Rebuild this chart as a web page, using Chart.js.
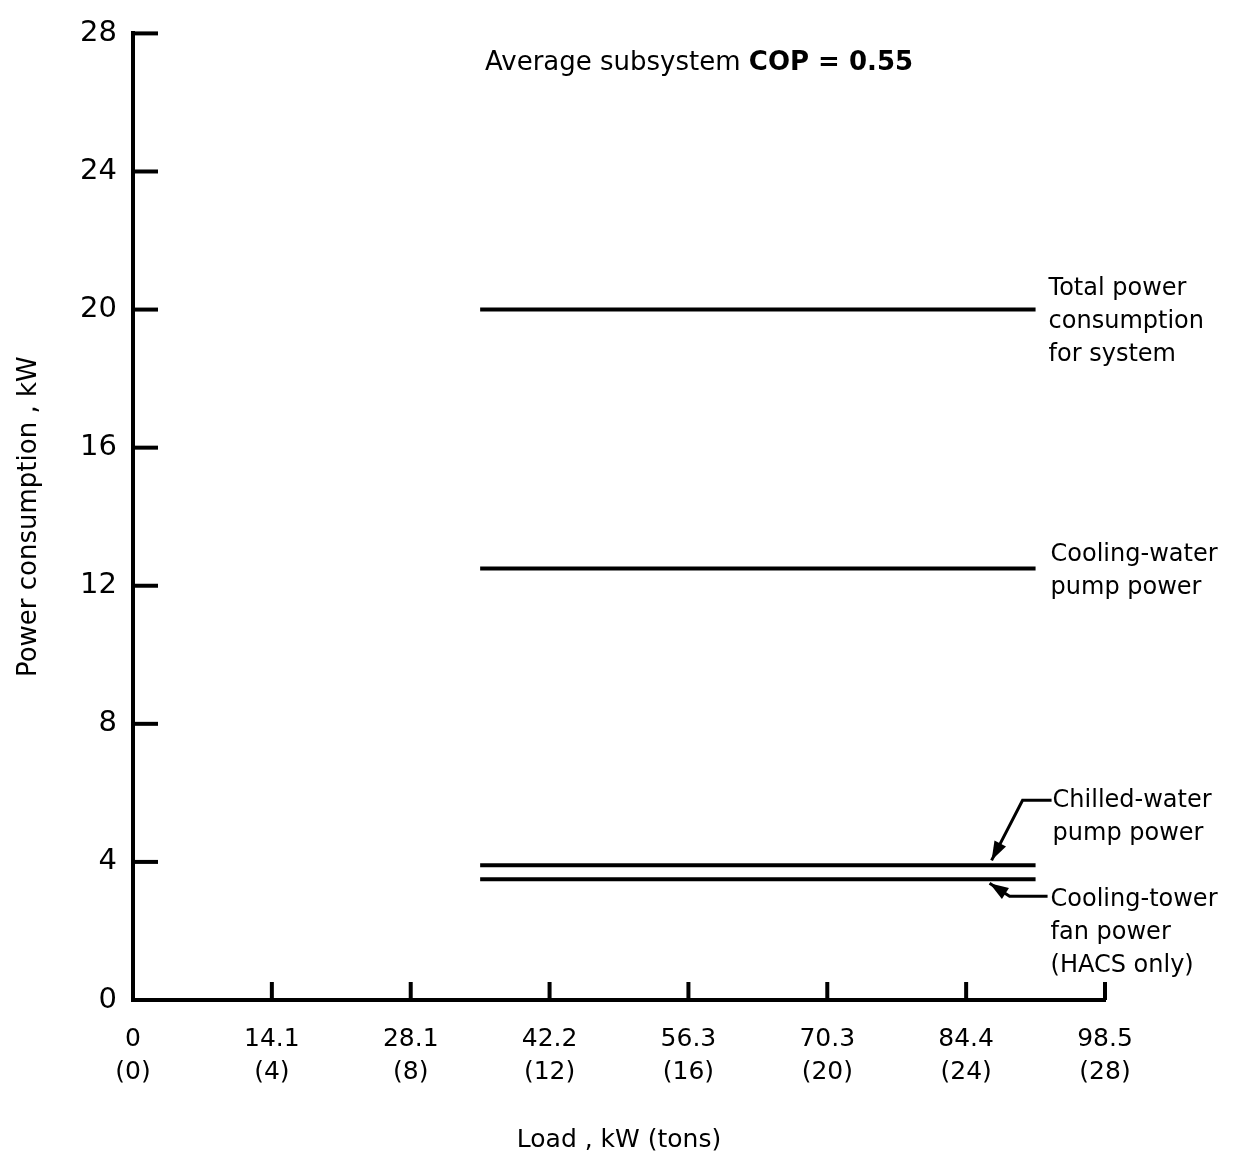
<!DOCTYPE html>
<html>
<head>
<meta charset="utf-8">
<script src="https://cdn.jsdelivr.net/npm/chart.js@4.4.1/dist/chart.umd.min.js"></script>
<style>
  html, body { margin: 0; padding: 0; background: #fff; }
  canvas { display: block; }
</style>
</head>
<body>
<canvas id="powerChart" width="1235" height="1161"></canvas>
<script>
// values
var loadTons = [10, 26];                 // load range of the lines, tons
var totalPower = [20, 20];               // kW
var coolingWaterPump = [12.5, 12.5];     // kW
var chilledWaterPump = [3.9, 3.9];       // kW
var coolingTowerFan = [3.5, 3.5];        // kW

var tonTicks = [0, 4, 8, 12, 16, 20, 24, 28];
var kwTickLabels = ['0', '14.1', '28.1', '42.2', '56.3', '70.3', '84.4', '98.5'];
var tonTickLabels = ['(0)', '(4)', '(8)', '(12)', '(16)', '(20)', '(24)', '(28)'];

var seriesNames = ['Total power consumption for system', 'Cooling-water pump power',
                   'Chilled-water pump power', 'Cooling-tower fan power (HACS only)'];
var seriesValues = [totalPower, coolingWaterPump, chilledWaterPump, coolingTowerFan];

var FONT = '"DejaVu Sans", Verdana, sans-serif';

function points(xs, ys) {
  return xs.map(function (x, i) { return { x: x, y: ys[i] }; });
}

// tick marks point into the plot, plus the text labels and arrows at the right
var figurePlugin = {
  id: 'figure',
  afterDraw: function (chart) {
    var c = chart.ctx, xs = chart.scales.x, ys = chart.scales.y;
    var area = chart.chartArea;
    c.save();
    c.strokeStyle = '#000';
    c.lineWidth = 4;
    c.lineCap = 'butt';
    ys.ticks.forEach(function (t) {
      var py = ys.getPixelForValue(t.value);
      c.beginPath(); c.moveTo(area.left, py); c.lineTo(area.left + 25, py); c.stroke();
    });
    xs.ticks.forEach(function (t) {
      if (t.value === 0) return;
      var px = xs.getPixelForValue(t.value);
      c.beginPath(); c.moveTo(px, area.bottom); c.lineTo(px, area.bottom - 18); c.stroke();
    });

    // heading inside the plot
    c.fillStyle = '#000';
    c.textBaseline = 'middle';
    c.textAlign = 'left';
    c.font = '26px ' + FONT;
    var hx = 485, hy = 63;
    c.fillText('Average subsystem ', hx, hy);
    var w = c.measureText('Average subsystem ').width;
    c.font = 'bold 26px ' + FONT;
    c.fillText('COP = 0.55', hx + w, hy);

    var xEnd = xs.getPixelForValue(loadTons[loadTons.length - 1]);
    var yTotal = ys.getPixelForValue(totalPower[1]);
    var yCw = ys.getPixelForValue(coolingWaterPump[1]);
    var yChw = ys.getPixelForValue(chilledWaterPump[1]);
    var yCt = ys.getPixelForValue(coolingTowerFan[1]);

    c.font = '24px ' + FONT;
    function lines(arr, x, y0) {
      arr.forEach(function (s, i) { c.fillText(s, x, y0 + i * 33); });
    }
    lines(['Total power', 'consumption', 'for system'], xEnd + 13, yTotal - 21);
    lines(['Cooling-water', 'pump power'], xEnd + 15, yCw - 14);
    lines(['Chilled-water', 'pump power'], xEnd + 17, yChw - 65);
    lines(['Cooling-tower', 'fan power', '(HACS only)'], xEnd + 15, yCt + 21);

    // arrows
    c.lineWidth = 3;
    function arrow(pts) {
      c.beginPath();
      c.moveTo(pts[0][0], pts[0][1]);
      for (var i = 1; i < pts.length; i++) c.lineTo(pts[i][0], pts[i][1]);
      c.stroke();
      var a = pts[pts.length - 2], b = pts[pts.length - 1];
      var ang = Math.atan2(b[1] - a[1], b[0] - a[0]);
      c.beginPath();
      c.moveTo(b[0], b[1]);
      c.lineTo(b[0] - 20 * Math.cos(ang - 0.33), b[1] - 20 * Math.sin(ang - 0.33));
      c.lineTo(b[0] - 20 * Math.cos(ang + 0.33), b[1] - 20 * Math.sin(ang + 0.33));
      c.closePath();
      c.fill();
    }
    arrow([[xEnd + 16, yChw - 65], [xEnd - 13, yChw - 65], [xEnd - 44, yChw - 5]]);
    arrow([[xEnd + 12, yCt + 17], [xEnd - 26, yCt + 17], [xEnd - 46, yCt + 4]]);
    c.restore();
  }
};

var ctx = document.getElementById('powerChart');
var chart = new Chart(ctx, {
  type: 'line',
  data: {
    datasets: seriesValues.map(function (vals, i) {
      return {
        label: seriesNames[i],
        data: points(loadTons, vals),
        borderColor: '#000',
        borderWidth: 4,
        pointRadius: 0,
        fill: false
      };
    })
  },
  options: {
    responsive: false,
    animation: false,
    layout: { padding: { top: 31, right: 130, left: 0, bottom: 0 } },
    plugins: {
      legend: { display: false },
      tooltip: { enabled: false }
    },
    scales: {
      x: {
        type: 'linear',
        min: 0,
        max: 28,
        afterBuildTicks: function (scale) {
          scale.ticks = tonTicks.map(function (v) { return { value: v }; });
        },
        afterFit: function (scale) { scale.height = 161; },
        border: { display: true, color: '#000', width: 4 },
        grid: { display: false, drawTicks: false },
        ticks: {
          color: '#000',
          padding: 23,
          maxRotation: 0,
          font: { family: FONT, size: 25, lineHeight: 1.32 },
          callback: function (value) {
            var i = tonTicks.indexOf(value);
            return [kwTickLabels[i], tonTickLabels[i]];
          }
        },
        title: {
          display: true,
          text: 'Load , kW (tons)',
          color: '#000',
          font: { family: FONT, size: 25 },
          padding: { top: 0, bottom: 6 }
        }
      },
      y: {
        min: 0,
        max: 28,
        afterFit: function (scale) { scale.width = 133; },
        border: { display: true, color: '#000', width: 4 },
        grid: { display: false, drawTicks: false },
        ticks: {
          stepSize: 4,
          color: '#000',
          padding: 16,
          font: { family: FONT, size: 29 }
        },
        title: {
          display: true,
          text: 'Power consumption , kW',
          color: '#000',
          font: { family: FONT, size: 26 },
          padding: { top: 14, bottom: 0 }
        }
      }
    }
  },
  plugins: [figurePlugin]
});
</script>
</body>
</html>
